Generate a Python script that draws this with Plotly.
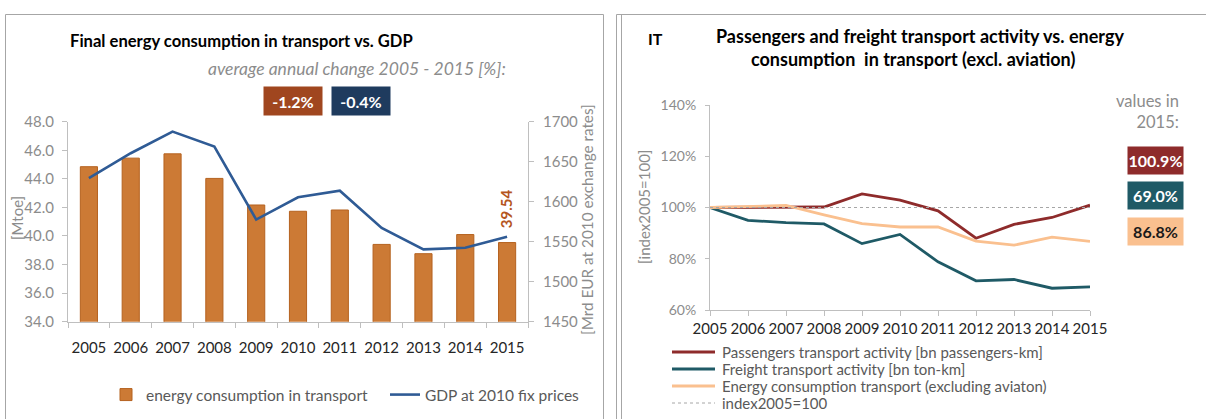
import plotly.graph_objects as go

W, H = 1206, 419
FONT = "Lato"

years = [2005, 2006, 2007, 2008, 2009, 2010, 2011, 2012, 2013, 2014, 2015]
energy_mtoe = [44.85, 45.45, 45.75, 44.03, 42.17, 41.73, 41.82, 39.41, 38.76, 40.10, 39.54]
gdp_mrd_eur = [1629.5, 1660.6, 1687.6, 1668.9, 1577.7, 1605.5, 1613.8, 1567.3, 1540.4, 1542.5, 1556.1]

passengers_idx = [100.0, 100.1, 100.3, 100.2, 105.3, 102.9, 98.7, 88.0, 93.4, 96.1, 100.9]
freight_idx = [100.0, 95.0, 94.1, 93.6, 85.9, 89.5, 78.8, 71.4, 71.9, 68.5, 69.0]
energy_idx = [100.0, 100.5, 100.8, 97.1, 93.7, 92.4, 92.4, 86.9, 85.3, 88.4, 86.8]
index_2005 = [100, 100, 100, 100, 100, 100, 100, 100, 100, 100, 100]

right_names = ["Passengers transport activity [bn passengers-km]",
               "Freight transport activity [bn ton-km]",
               "Energy consumption transport (excluding aviaton)",
               "index2005=100"]
avg_change_labels = ["-1.2%", "-0.4%"]
values_2015_labels = ["100.9%", "69.0%", "86.8%"]
last_energy_label = "39.54"


def px(x):
    return x / W


def py(y):
    return 1 - y / H


C_BAR = "#CC7A35"
C_BAR_LINE = "#B5621F"
C_GDP = "#2F5B95"
C_RUST = "#A0461F"
C_NAVY = "#1F3B5E"
C_PASS = "#8E2B2B"
C_FREIGHT = "#1F5A66"
C_ENERGY = "#FAC08F"
C_INDEX = "#A6A6A6"
GREY = "#8C8C8C"
AXIS = "#BFBFBF"

fig = go.Figure()

fig.add_trace(go.Bar(
    x=years, y=energy_mtoe, name="energy consumption in transport",
    marker=dict(color=C_BAR, line=dict(color=C_BAR_LINE, width=1)),
    width=0.41, xaxis="x", yaxis="y", legend="legend",
))
fig.add_trace(go.Scatter(
    x=years, y=gdp_mrd_eur, name="GDP at 2010 fix prices", mode="lines",
    line=dict(color=C_GDP, width=2.6),
    xaxis="x", yaxis="y2", legend="legend",
))

right_series = [passengers_idx, freight_idx, energy_idx, index_2005]
right_styles = [dict(color=C_PASS, width=2.8), dict(color=C_FREIGHT, width=2.8),
                dict(color=C_ENERGY, width=2.8), dict(color=C_INDEX, width=1, dash="dot")]
for name, ser, st in zip(right_names, right_series, right_styles):
    fig.add_trace(go.Scatter(
        x=years, y=ser, name=name, mode="lines", line=st,
        xaxis="x3", yaxis="y3", showlegend=False,
    ))

tickfont_grey = dict(family=FONT, size=15, color=GREY)
tickfont_dark = dict(family=FONT, size=15, color="#262626")

fig.update_layout(
    width=W, height=H,
    margin=dict(l=0, r=0, t=0, b=0, autoexpand=False),
    paper_bgcolor="white", plot_bgcolor="white",
    font=dict(family=FONT, size=13, color="#595959"),
    xaxis=dict(
        domain=[px(68), px(528)], anchor="y", range=[2004.5, 2015.5], dtick=1, tick0=2005,
        showline=True, linecolor=AXIS, linewidth=1,
        ticks="", tickfont=tickfont_dark, showgrid=False, zeroline=False, ticklabelstandoff=12,
        minor=dict(tick0=2004.5, dtick=1, ticks="outside", ticklen=5, tickcolor=AXIS, showgrid=False),
        automargin=False,
    ),
    yaxis=dict(
        domain=[py(321.7), py(121.7)], anchor="x", range=[34, 48], dtick=2,
        tickformat=".1f", showline=True, linecolor=AXIS, ticks="outside", ticklen=5,
        tickcolor=AXIS, tickfont=tickfont_grey, showgrid=False, zeroline=False,
        ticklabelstandoff=5, automargin=False,
    ),
    yaxis2=dict(
        overlaying="y", side="right", anchor="x", range=[1450, 1700], dtick=50,
        showline=True, linecolor=AXIS, ticks="outside", ticklen=5, tickcolor=AXIS,
        tickfont=tickfont_grey, showgrid=False, zeroline=False, ticklabelstandoff=6,
        automargin=False,
    ),
    xaxis3=dict(
        domain=[px(710), px(1090)], anchor="y3", range=[2005, 2015], dtick=1,
        showline=True, linecolor=AXIS, ticks="outside", ticklen=5, tickcolor=AXIS,
        tickfont=tickfont_dark, showgrid=False, zeroline=False, automargin=False,
    ),
    yaxis3=dict(
        domain=[py(310), py(105)], anchor="x3", range=[60, 140], dtick=20,
        ticksuffix="%", showline=True, linecolor=AXIS, ticks="outside", ticklen=4,
        tickcolor=AXIS, tickfont=dict(family=FONT, size=14, color=GREY),
        showgrid=False, zeroline=False, ticklabelstandoff=6, automargin=False,
    ),
    legend=dict(
        orientation="h", x=px(106), y=py(395), xanchor="left", yanchor="middle",
        font=dict(family=FONT, size=15.5, color="#595959"), bgcolor="rgba(0,0,0,0)",
        entrywidth=234, entrywidthmode="pixels",
    ),
    showlegend=True,
)

ann = []
# left panel texts
ann.append(dict(text="<b>Final energy consumption in transport vs. GDP</b>", x=px(68), y=py(41),
                xref="paper", yref="paper", xanchor="left", yanchor="middle", showarrow=False,
                font=dict(family=FONT, size=16.6, color="#000000")))
ann.append(dict(text="<i>average annual change 2005 - 2015 [%]:</i>", x=px(508), y=py(68),
                xref="paper", yref="paper", xanchor="right", yanchor="middle", showarrow=False,
                font=dict(family=FONT, size=17.5, color=GREY)))
for lbl, xc, col in zip(avg_change_labels, [293, 361], [C_RUST, C_NAVY]):
    ann.append(dict(text="<b>" + lbl + "</b>", x=px(xc), y=py(100.5), xref="paper", yref="paper",
                    xanchor="center", yanchor="middle", showarrow=False, width=58, height=28,
                    bgcolor=col, borderpad=0,
                    font=dict(family=FONT, size=16, color="white")))
ann.append(dict(text="[Mtoe]", x=px(17), y=py(218), xref="paper", yref="paper", textangle=-90,
                xanchor="center", yanchor="middle", showarrow=False,
                font=dict(family=FONT, size=15, color=GREY)))
ann.append(dict(text="[Mrd EUR at 2010 exchange rates]", x=px(587), y=py(220), xref="paper", yref="paper",
                textangle=-90, xanchor="center", yanchor="middle", showarrow=False,
                font=dict(family=FONT, size=15.3, color=GREY)))
ann.append(dict(text="<b>" + last_energy_label + "</b>", x=years[-1], y=energy_mtoe[-1], xref="x", yref="y",
                textangle=-90, xanchor="center", yanchor="bottom", yshift=12, xshift=-1, showarrow=False,
                font=dict(family=FONT, size=15, color="#B5561E")))

# right panel texts
ann.append(dict(text="<b>IT</b>", x=px(646), y=py(38), xref="paper", yref="paper",
                xanchor="left", yanchor="middle", showarrow=False,
                font=dict(family=FONT, size=16, color="#000000")))
ann.append(dict(text="<b>Passengers and freight transport activity vs. energy</b>", x=px(920), y=py(36),
                xref="paper", yref="paper", xanchor="center", yanchor="middle", showarrow=False,
                font=dict(family=FONT, size=18, color="#000000")))
ann.append(dict(text="<b>consumption  in transport (excl. aviation)</b>", x=px(913), y=py(59),
                xref="paper", yref="paper", xanchor="center", yanchor="middle", showarrow=False,
                font=dict(family=FONT, size=18, color="#000000")))
ann.append(dict(text="[index2005=100]", x=px(644), y=py(207), xref="paper", yref="paper", textangle=-90,
                xanchor="center", yanchor="middle", showarrow=False,
                font=dict(family=FONT, size=15, color=GREY)))
ann.append(dict(text="values in<br>2015:", x=px(1181), y=py(111), xref="paper", yref="paper",
                xanchor="right", yanchor="middle", align="right", showarrow=False,
                font=dict(family=FONT, size=16.5, color=GREY)))
for lbl, yc, col, tc in zip(values_2015_labels, [160.5, 196, 232], [C_PASS, C_FREIGHT, C_ENERGY],
                            ["white", "white", "#1a1a1a"]):
    ann.append(dict(text="<b>" + lbl + "</b>", x=px(1155.5), y=py(yc), xref="paper", yref="paper",
                    xanchor="center", yanchor="middle", showarrow=False, width=55, height=27,
                    bgcolor=col, borderpad=0,
                    font=dict(family=FONT, size=16, color=tc)))

shapes = []
# right panel legend (key lines + labels)
legend_rows = [352, 369, 386, 403]
for name, st, ry in zip(right_names, right_styles, legend_rows):
    shapes.append(dict(type="line", xref="paper", yref="paper", x0=px(672), x1=px(715),
                       y0=py(ry), y1=py(ry), line=st))
    ann.append(dict(text=name, x=px(720), y=py(ry), xref="paper", yref="paper",
                    xanchor="left", yanchor="middle", showarrow=False,
                    font=dict(family=FONT, size=15, color="#595959")))
fig.update_layout(annotations=ann)

# panel frames
shapes += [
    dict(type="rect", xref="paper", yref="paper", x0=px(5.5), x1=px(603.5), y0=py(430), y1=py(14.5),
         line=dict(color="#A6A6A6", width=1), fillcolor="rgba(0,0,0,0)"),
    dict(type="line", xref="paper", yref="paper", x0=px(616.5), x1=px(616.5), y0=py(430), y1=py(14.5),
         line=dict(color="#A6A6A6", width=1)),
    dict(type="line", xref="paper", yref="paper", x0=px(621.5), x1=px(621.5), y0=py(430), y1=py(14.5),
         line=dict(color="#A6A6A6", width=1)),
    dict(type="line", xref="paper", yref="paper", x0=px(616.5), x1=px(1210), y0=py(14.5), y1=py(14.5),
         line=dict(color="#A6A6A6", width=1)),
]
fig.update_layout(shapes=shapes)

fig.write_html("out.html", config={"displayModeBar": False},
               post_script="document.body.style.margin='0';document.body.style.overflow='hidden';")
